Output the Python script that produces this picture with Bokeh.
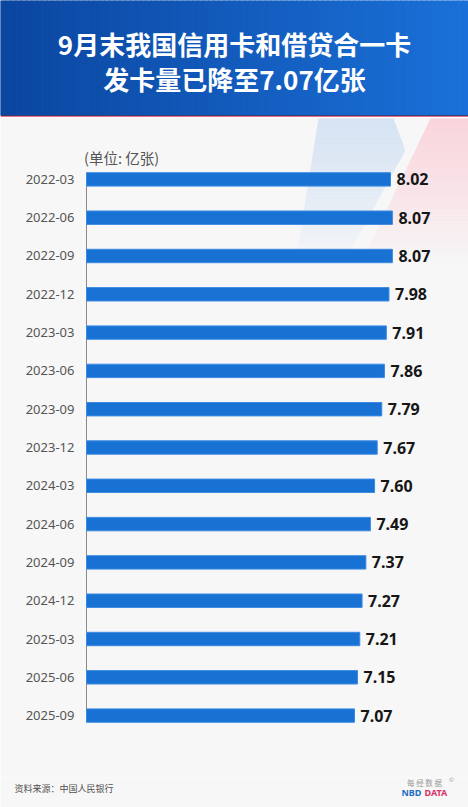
from bokeh.plotting import figure
from bokeh.models import Range1d, FactorRange, ColumnDataSource, Label
from bokeh.layouts import column
from bokeh.embed import file_html
from bokeh.resources import INLINE
from bokeh.core.properties import value

# ---------------- data ----------------
periods = ["2022-03", "2022-06", "2022-09", "2022-12", "2023-03", "2023-06",
           "2023-09", "2023-12", "2024-03", "2024-06", "2024-09", "2024-12",
           "2025-03", "2025-06", "2025-09"]
cards = [8.02, 8.07, 8.07, 7.98, 7.91, 7.86, 7.79, 7.67, 7.60, 7.49, 7.37,
         7.27, 7.21, 7.15, 7.07]
value_labels = ["%.2f" % v for v in cards]
title_lines = ["9月末我国信用卡和借贷合一卡", "发卡量已降至7.07亿张"]
unit_label = "(单位: 亿张)"
source_label = "资料来源：中国人民银行"
logo_cn = "每 经 数 据"
logo_en = ["NBD", "DATA"]

# ---------------- style ----------------
W = 468
BG = "#f7f7f7"
BAR = "#1872d4"
CJK = value("Noto Sans CJK SC")
SANS = value("Noto Sans")
PXU = 37.905            # pixels per unit on the value axis
XMIN = -3 / PXU
XMAX = (468 - 86) / PXU
PAD = 0.1488


def hexmix(c1, c2, t):
    a = [int(c1[i:i + 2], 16) for i in (1, 3, 5)]
    b = [int(c2[i:i + 2], 16) for i in (1, 3, 5)]
    return "#%02x%02x%02x" % tuple(round(a[k] + (b[k] - a[k]) * t) for k in range(3))


def blank(fig):
    fig.grid.visible = False
    fig.outline_line_color = None
    fig.frame_align = False


# ---------------- header ----------------
hdr = figure(width=W, height=117, x_range=Range1d(0, 468), y_range=Range1d(117, 0),
             output_backend="svg", toolbar_location=None, min_border=0,
             x_axis_location=None, y_axis_location=None,
             background_fill_color=BG, border_fill_color=BG)
blank(hdr)
n = 90
step = 468 / n
lefts = [i * step for i in range(n)]
rights = [l + step for l in lefts]
cols = [hexmix("#0b46a0", "#1a70d8", i / (n - 1)) for i in range(n)]
hdr.quad(left=lefts, right=rights, top=0, bottom=114.6, fill_color=cols,
         line_color=cols, line_width=1)
hdr.quad(left=0, right=468, top=114.6, bottom=115.4, fill_color="#3a3f7a", line_color=None)
hdr.quad(left=0, right=468, top=115.4, bottom=117, fill_color="#e46f87", line_color=None)
hdr.text(x=[234, 234], y=[43, 78], text=title_lines, text_align="center",
         text_baseline="middle", text_font=CJK, text_font_style="bold",
         text_font_size="26px", text_color="white")

# ---------------- chart ----------------
src = ColumnDataSource(dict(period=periods, cards=cards, label=value_labels))
p = figure(width=W, height=660,
           y_range=FactorRange(factors=periods[::-1], range_padding=PAD),
           x_range=Range1d(XMIN, XMAX),
           output_backend="svg", toolbar_location=None,
           min_border_left=83, min_border_right=0, min_border_top=0, min_border_bottom=0,
           x_axis_location=None,
           background_fill_color=BG, border_fill_color=BG)
blank(p)

# page-pixel -> data helpers for the decorative (non-data) shapes
NF = len(periods)
HALF = NF * PAD / 2
F_TOP, F_BOT, F_L, F_R = 117.0, 777.0, 83.0, 468.0


def dx(px):
    return XMIN + (px - F_L) / (F_R - F_L) * (XMAX - XMIN)


def dy(py):
    return (NF + HALF) - (py - F_TOP) / (F_BOT - F_TOP) * (NF + 2 * HALF)


def band_patches(xl, xr, y0, y1, nb):
    xs, ys, al = [], [], []
    for i in range(nb):
        ya = y0 + (y1 - y0) * i / nb
        yb = y0 + (y1 - y0) * (i + 1) / nb + 0.3
        xs.append([dx(xl(ya)), dx(xr(ya)), dx(xr(yb)), dx(xl(yb))])
        ys.append([dy(ya), dy(ya), dy(yb), dy(yb)])
        t = i / nb
        al.append(max(0.0, (1 - t)) ** 0.9)
    return xs, ys, al


def blue_l(y):
    return 318 + (297 - 318) * (y - 118) / (250 - 118)


def blue_r(y):
    if y < 150:
        return 393 + 12 * (y - 118) / 32
    return 405 - 37 * (y - 150) / 67


bx, by, ba = band_patches(blue_l, blue_r, 118, 262, 40)
p.patches(bx, by, fill_color="#d5e3f3", fill_alpha=ba, line_color=None)


def pink_l(y):
    return 430 - 61 * (y - 118) / 127


def pink_r(y):
    return 468


kx, ky, ka = band_patches(pink_l, pink_r, 118, 258, 40)
p.patches(kx, ky, fill_color="#f9d4dc", fill_alpha=ka, line_color=None)

# axis line spanning the bars only
axis_src = ColumnDataSource(dict(x0=[0], x1=[0], y0=[(periods[0], 0.175)],
                                 y1=[(periods[-1], -0.175)]))
p.segment(x0="x0", x1="x1", y0="y0", y1="y1", source=axis_src,
          line_color="#8a8a8a", line_width=1)

p.hbar(y="period", left=0, right="cards", height=0.35, source=src,
       fill_color=BAR, line_color="#3c8ae2", line_width=1)
p.text(x="cards", y="period", text="label", source=src, x_offset=6,
       text_baseline="middle", text_align="left", text_font=SANS,
       text_font_style="bold", text_font_size="16px", text_color="#161616")

p.add_layout(Label(x=dx(83.5), y=dy(157), text=unit_label,
                   text_baseline="middle", text_align="left", text_font="Noto Sans CJK SC",
                   text_font_size="14.5px", text_color="#555555"))

ax = p.yaxis[0]
ax.axis_line_color = None
ax.major_tick_line_color = None
ax.minor_tick_line_color = None
ax.major_label_standoff = 3
ax.major_label_text_font = "Noto Sans"
ax.major_label_text_font_size = "13px"
ax.major_label_text_color = "#555555"

# ---------------- footer ----------------
ftr = figure(width=W, height=30, x_range=Range1d(0, 468), y_range=Range1d(807, 777),
             output_backend="svg", toolbar_location=None, min_border=0,
             x_axis_location=None, y_axis_location=None,
             background_fill_color=BG, border_fill_color=BG)
blank(ftr)
ftr.text(x=[14], y=[788], text=[source_label], text_baseline="middle",
         text_font=CJK, text_font_size="9px", text_color="#505050")
ftr.text(x=[424], y=[782], text=[logo_cn], text_baseline="middle", text_align="center",
         text_font=CJK, text_font_size="7.5px", text_color="#9a9a9a")
ftr.text(x=[451], y=[779], text=["©"], text_baseline="middle", text_align="center",
         text_font=SANS, text_font_size="6px", text_color="#9a9a9a")
ftr.text(x=[401], y=[792], text=[logo_en[0]], text_baseline="middle", text_align="left",
         text_font=SANS, text_font_style="bold", text_font_size="9px", text_color="#1b6ec2")
ftr.text(x=[424], y=[792], text=[logo_en[1]], text_baseline="middle", text_align="left",
         text_font=SANS, text_font_style="bold", text_font_size="9px", text_color="#d8336a")

page = column(hdr, p, ftr, spacing=0)
open("out.html", "w").write(file_html(page, INLINE))
